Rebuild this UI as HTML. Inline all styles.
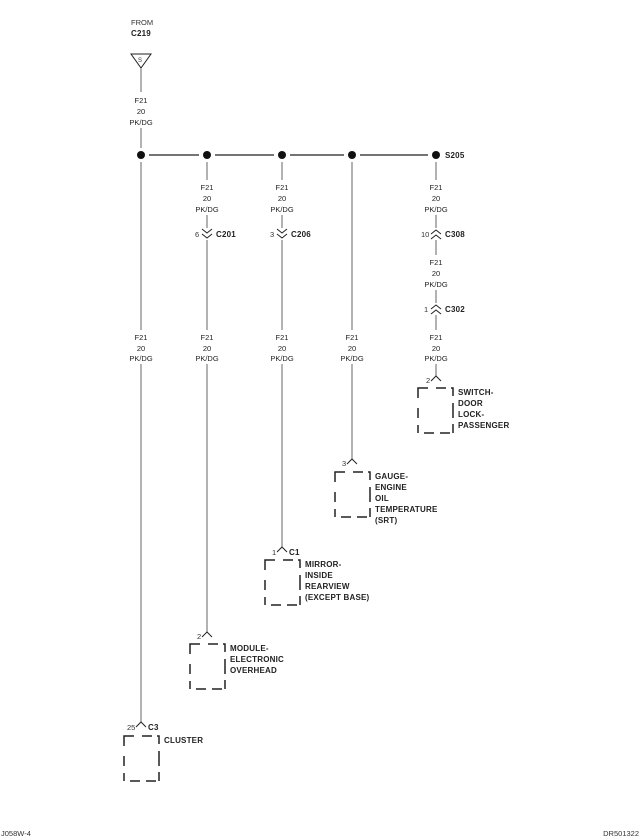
<!DOCTYPE html>
<html><head><style>
html,body{margin:0;padding:0;background:#fff;}
svg{display:block;}
text{font-family:"Liberation Sans",sans-serif;fill:#222;}
.s{font-size:7.5px;fill:#333;}
.b{font-size:8px;font-weight:bold;letter-spacing:0.2px;}
</style></head><body>
<svg width="640" height="839" viewBox="0 0 640 839" xmlns="http://www.w3.org/2000/svg">
<defs>
<g id="box" fill="none" stroke="#222" stroke-width="1.5">
<path d="M0 10V0H10M18 0H28M33 0H35V8M35 15V30M35 36V45M0 20V30M0 37V45M6 45H16M22 45H32"/>
</g>
</defs>
<text class="s" x="131" y="25">FROM</text>
<text class="b" x="131" y="36">C219</text>
<path d="M131 54H151L141 68Z" fill="none" stroke="#222" stroke-width="1"/>
<text class="s" x="138" y="62" style="font-size:6px">S</text>
<g stroke="#666" stroke-width="1" fill="none">
<path d="M141 68V92M141 128V148M141 162V330M141 364V722"/>
<path d="M207 162V180M207 215V228M207 240V330M207 364V632"/>
<path d="M282 162V180M282 215V228M282 240V330M282 364V547"/>
<path d="M352 162V330M352 364V459"/>
<path d="M436 162V180M436 215V228M436 240V255M436 290V303M436 315V330M436 364V376"/>
</g>
<g stroke="#222" stroke-width="1.3">
<path d="M149 155H199M215 155H274M290 155H344M360 155H428"/>
</g>
<g fill="#111">
<circle cx="141" cy="155" r="4"/><circle cx="207" cy="155" r="4"/><circle cx="282" cy="155" r="4"/><circle cx="352" cy="155" r="4"/><circle cx="436" cy="155" r="4"/>
</g>
<text class="b" x="445" y="158">S205</text>
<g class="s" text-anchor="middle">
<text x="141" y="103">F21</text><text x="141" y="114">20</text><text x="141" y="125">PK/DG</text>
<text x="207" y="190">F21</text><text x="207" y="201">20</text><text x="207" y="212">PK/DG</text>
<text x="282" y="190">F21</text><text x="282" y="201">20</text><text x="282" y="212">PK/DG</text>
<text x="436" y="190">F21</text><text x="436" y="201">20</text><text x="436" y="212">PK/DG</text>
<text x="436" y="265">F21</text><text x="436" y="276">20</text><text x="436" y="287">PK/DG</text>
<text x="141" y="340">F21</text><text x="141" y="351">20</text><text x="141" y="361">PK/DG</text>
<text x="207" y="340">F21</text><text x="207" y="351">20</text><text x="207" y="361">PK/DG</text>
<text x="282" y="340">F21</text><text x="282" y="351">20</text><text x="282" y="361">PK/DG</text>
<text x="352" y="340">F21</text><text x="352" y="351">20</text><text x="352" y="361">PK/DG</text>
<text x="436" y="340">F21</text><text x="436" y="351">20</text><text x="436" y="361">PK/DG</text>
</g>
<g fill="none" stroke="#222" stroke-width="1">
<path d="M202 229L207 233L212 229M202 234L207 238L212 234"/>
<path d="M277 229L282 233L287 229M277 234L282 238L287 234"/>
<path d="M431 234L436 230L441 234M431 239L436 235L441 239"/>
<path d="M431 309L436 305L441 309M431 314L436 310L441 314"/>
<path d="M431 381L436 376L441 381"/>
<path d="M347 464L352 459L357 464"/>
<path d="M277 552L282 547L287 552"/>
<path d="M202 637L207 632L212 637"/>
<path d="M136 727L141 722L146 727"/>
</g>
<text class="s" x="195" y="237">6</text><text class="b" x="216" y="237">C201</text>
<text class="s" x="270" y="237">3</text><text class="b" x="291" y="237">C206</text>
<text class="s" x="421" y="237">10</text><text class="b" x="445" y="237">C308</text>
<text class="s" x="424" y="312">1</text><text class="b" x="445" y="312">C302</text>
<text class="s" x="426" y="383">2</text>
<text class="s" x="342" y="466">3</text>
<text class="s" x="272" y="555">1</text><text class="b" x="289" y="555">C1</text>
<text class="s" x="197" y="639">2</text>
<text class="s" x="127" y="730">25</text><text class="b" x="148" y="730">C3</text>
<use href="#box" x="418" y="388"/>
<use href="#box" x="335" y="472"/>
<use href="#box" x="265" y="560"/>
<use href="#box" x="190" y="644"/>
<use href="#box" x="124" y="736"/>
<g class="b">
<text x="458" y="395">SWITCH-</text><text x="458" y="406">DOOR</text><text x="458" y="417">LOCK-</text><text x="458" y="428">PASSENGER</text>
<text x="375" y="479">GAUGE-</text><text x="375" y="490">ENGINE</text><text x="375" y="501">OIL</text><text x="375" y="512">TEMPERATURE</text><text x="375" y="523">(SRT)</text>
<text x="305" y="567">MIRROR-</text><text x="305" y="578">INSIDE</text><text x="305" y="589">REARVIEW</text><text x="305" y="600">(EXCEPT BASE)</text>
<text x="230" y="651">MODULE-</text><text x="230" y="662">ELECTRONIC</text><text x="230" y="673">OVERHEAD</text>
<text x="164" y="743">CLUSTER</text>
</g>
<text class="s" x="1" y="836">J058W-4</text>
<text class="s" x="639" y="836" text-anchor="end">DR501322</text>
</svg>
</body></html>
